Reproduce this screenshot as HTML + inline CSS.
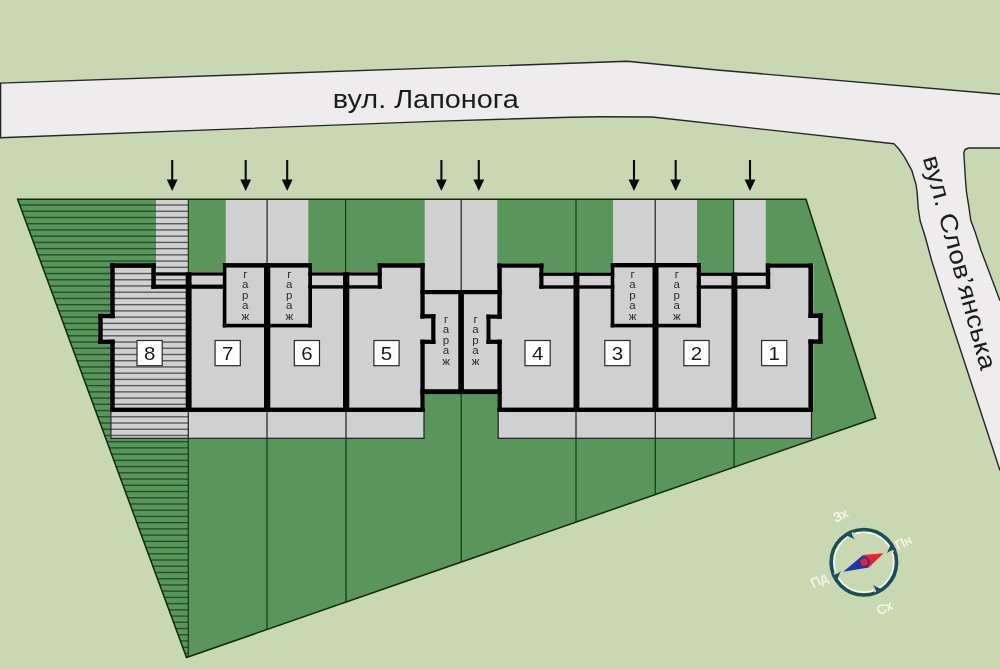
<!DOCTYPE html><html><head><meta charset="utf-8"><style>html,body{margin:0;padding:0;background:#c8d8b2;}body{width:1000px;height:669px;overflow:hidden;font-family:"Liberation Sans",sans-serif;}svg{display:block;will-change:transform;}</style></head><body><svg width="1000" height="669" viewBox="0 0 1000 669">
<defs>
<clipPath id="hclip"><polygon points="17.60,199.20 188.00,199.20 188.00,656.98 186.50,657.50"/></clipPath>
<clipPath id="b8clip"><path d="M156,199 H188 V412 H110 V344 H98.2 V313.8 H110 V263.2 H156 Z"/></clipPath>
<clipPath id="t8clip"><rect x="110.5" y="412" width="77.5" height="26.3"/></clipPath>
</defs>
<rect x="0.00" y="0.00" width="1000.00" height="669.00" fill="#c8d8b2" />
<polygon points="0.00,83.10 627.00,61.30 720.00,70.30 1000.00,94.30 1000.00,148.00 968.50,148.00 965.00,149.50 963.80,153.00 965.50,180.00 966.50,192.00 969.00,207.90 970.80,220.50 975.30,232.50 980.90,250.00 1000.00,300.70 1000.00,470.50 944.10,300.00 931.50,260.00 925.30,237.00 920.20,221.00 918.20,208.00 917.20,193.00 916.00,184.50 911.80,170.30 904.40,156.90 898.50,148.50 893.90,143.70 652.40,117.00 600.00,116.80 570.00,117.20 440.00,121.10 0.00,137.80" fill="#efeced"/>
<polyline points="0.00,83.10 627.00,61.30 720.00,70.30 1000.00,94.30" fill="none" stroke="#262626" stroke-width="1.4" stroke-linejoin="round"/>
<polyline points="1000.00,148.00 968.50,148.00 965.00,149.50 963.80,153.00 965.50,180.00 966.50,192.00 969.00,207.90 970.80,220.50 975.30,232.50 980.90,250.00 1000.00,300.70" fill="none" stroke="#262626" stroke-width="1.4" stroke-linejoin="round"/>
<polyline points="1000.00,470.50 944.10,300.00 931.50,260.00 925.30,237.00 920.20,221.00 918.20,208.00 917.20,193.00 916.00,184.50 911.80,170.30 904.40,156.90 898.50,148.50 893.90,143.70 652.40,117.00 600.00,116.80 570.00,117.20 440.00,121.10 0.00,137.80 0.60,137.80 0.60,83.10" fill="none" stroke="#262626" stroke-width="1.4" stroke-linejoin="round"/>
<polygon points="17.60,199.20 806.00,199.20 875.70,418.00 186.50,657.50" fill="#5a955c"/>
<g clip-path="url(#hclip)">
<rect x="0.00" y="198.10" width="190.00" height="1.4" fill="#24522a"/>
<rect x="0.00" y="204.33" width="190.00" height="1.4" fill="#24522a"/>
<rect x="0.00" y="210.56" width="190.00" height="1.4" fill="#24522a"/>
<rect x="0.00" y="216.78" width="190.00" height="1.4" fill="#24522a"/>
<rect x="0.00" y="223.01" width="190.00" height="1.4" fill="#24522a"/>
<rect x="0.00" y="229.24" width="190.00" height="1.4" fill="#24522a"/>
<rect x="0.00" y="235.47" width="190.00" height="1.4" fill="#24522a"/>
<rect x="0.00" y="241.70" width="190.00" height="1.4" fill="#24522a"/>
<rect x="0.00" y="247.92" width="190.00" height="1.4" fill="#24522a"/>
<rect x="0.00" y="254.15" width="190.00" height="1.4" fill="#24522a"/>
<rect x="0.00" y="260.38" width="190.00" height="1.4" fill="#24522a"/>
<rect x="0.00" y="266.61" width="190.00" height="1.4" fill="#24522a"/>
<rect x="0.00" y="272.84" width="190.00" height="1.4" fill="#24522a"/>
<rect x="0.00" y="279.06" width="190.00" height="1.4" fill="#24522a"/>
<rect x="0.00" y="285.29" width="190.00" height="1.4" fill="#24522a"/>
<rect x="0.00" y="291.52" width="190.00" height="1.4" fill="#24522a"/>
<rect x="0.00" y="297.75" width="190.00" height="1.4" fill="#24522a"/>
<rect x="0.00" y="303.98" width="190.00" height="1.4" fill="#24522a"/>
<rect x="0.00" y="310.20" width="190.00" height="1.4" fill="#24522a"/>
<rect x="0.00" y="316.43" width="190.00" height="1.4" fill="#24522a"/>
<rect x="0.00" y="322.66" width="190.00" height="1.4" fill="#24522a"/>
<rect x="0.00" y="328.89" width="190.00" height="1.4" fill="#24522a"/>
<rect x="0.00" y="335.12" width="190.00" height="1.4" fill="#24522a"/>
<rect x="0.00" y="341.34" width="190.00" height="1.4" fill="#24522a"/>
<rect x="0.00" y="347.57" width="190.00" height="1.4" fill="#24522a"/>
<rect x="0.00" y="353.80" width="190.00" height="1.4" fill="#24522a"/>
<rect x="0.00" y="360.03" width="190.00" height="1.4" fill="#24522a"/>
<rect x="0.00" y="366.26" width="190.00" height="1.4" fill="#24522a"/>
<rect x="0.00" y="372.48" width="190.00" height="1.4" fill="#24522a"/>
<rect x="0.00" y="378.71" width="190.00" height="1.4" fill="#24522a"/>
<rect x="0.00" y="384.94" width="190.00" height="1.4" fill="#24522a"/>
<rect x="0.00" y="391.17" width="190.00" height="1.4" fill="#24522a"/>
<rect x="0.00" y="397.40" width="190.00" height="1.4" fill="#24522a"/>
<rect x="0.00" y="403.62" width="190.00" height="1.4" fill="#24522a"/>
<rect x="0.00" y="409.85" width="190.00" height="1.4" fill="#24522a"/>
<rect x="0.00" y="416.08" width="190.00" height="1.4" fill="#24522a"/>
<rect x="0.00" y="422.31" width="190.00" height="1.4" fill="#24522a"/>
<rect x="0.00" y="428.54" width="190.00" height="1.4" fill="#24522a"/>
<rect x="0.00" y="434.76" width="190.00" height="1.4" fill="#24522a"/>
<rect x="0.00" y="440.99" width="190.00" height="1.4" fill="#24522a"/>
<rect x="0.00" y="447.22" width="190.00" height="1.4" fill="#24522a"/>
<rect x="0.00" y="453.45" width="190.00" height="1.4" fill="#24522a"/>
<rect x="0.00" y="459.68" width="190.00" height="1.4" fill="#24522a"/>
<rect x="0.00" y="465.90" width="190.00" height="1.4" fill="#24522a"/>
<rect x="0.00" y="472.13" width="190.00" height="1.4" fill="#24522a"/>
<rect x="0.00" y="478.36" width="190.00" height="1.4" fill="#24522a"/>
<rect x="0.00" y="484.59" width="190.00" height="1.4" fill="#24522a"/>
<rect x="0.00" y="490.82" width="190.00" height="1.4" fill="#24522a"/>
<rect x="0.00" y="497.04" width="190.00" height="1.4" fill="#24522a"/>
<rect x="0.00" y="503.27" width="190.00" height="1.4" fill="#24522a"/>
<rect x="0.00" y="509.50" width="190.00" height="1.4" fill="#24522a"/>
<rect x="0.00" y="515.73" width="190.00" height="1.4" fill="#24522a"/>
<rect x="0.00" y="521.96" width="190.00" height="1.4" fill="#24522a"/>
<rect x="0.00" y="528.18" width="190.00" height="1.4" fill="#24522a"/>
<rect x="0.00" y="534.41" width="190.00" height="1.4" fill="#24522a"/>
<rect x="0.00" y="540.64" width="190.00" height="1.4" fill="#24522a"/>
<rect x="0.00" y="546.87" width="190.00" height="1.4" fill="#24522a"/>
<rect x="0.00" y="553.10" width="190.00" height="1.4" fill="#24522a"/>
<rect x="0.00" y="559.32" width="190.00" height="1.4" fill="#24522a"/>
<rect x="0.00" y="565.55" width="190.00" height="1.4" fill="#24522a"/>
<rect x="0.00" y="571.78" width="190.00" height="1.4" fill="#24522a"/>
<rect x="0.00" y="578.01" width="190.00" height="1.4" fill="#24522a"/>
<rect x="0.00" y="584.24" width="190.00" height="1.4" fill="#24522a"/>
<rect x="0.00" y="590.46" width="190.00" height="1.4" fill="#24522a"/>
<rect x="0.00" y="596.69" width="190.00" height="1.4" fill="#24522a"/>
<rect x="0.00" y="602.92" width="190.00" height="1.4" fill="#24522a"/>
<rect x="0.00" y="609.15" width="190.00" height="1.4" fill="#24522a"/>
<rect x="0.00" y="615.38" width="190.00" height="1.4" fill="#24522a"/>
<rect x="0.00" y="621.60" width="190.00" height="1.4" fill="#24522a"/>
<rect x="0.00" y="627.83" width="190.00" height="1.4" fill="#24522a"/>
<rect x="0.00" y="634.06" width="190.00" height="1.4" fill="#24522a"/>
<rect x="0.00" y="640.29" width="190.00" height="1.4" fill="#24522a"/>
<rect x="0.00" y="646.52" width="190.00" height="1.4" fill="#24522a"/>
<rect x="0.00" y="652.74" width="190.00" height="1.4" fill="#24522a"/>
<rect x="0.00" y="658.97" width="190.00" height="1.4" fill="#24522a"/>
</g>
<rect x="225.80" y="199.20" width="82.50" height="66.80" fill="#d0d0d0" />
<rect x="424.70" y="199.20" width="72.60" height="92.80" fill="#d0d0d0" />
<rect x="613.00" y="199.20" width="84.00" height="66.80" fill="#d0d0d0" />
<rect x="733.50" y="199.20" width="32.30" height="74.80" fill="#d0d0d0" />
<rect x="188.00" y="272.50" width="236.70" height="137.50" fill="#d0d0d0" />
<rect x="222.80" y="263.10" width="89.20" height="36.90" fill="#d0d0d0" />
<rect x="377.70" y="263.20" width="47.00" height="36.80" fill="#d0d0d0" />
<rect x="420.00" y="290.00" width="81.60" height="104.00" fill="#d0d0d0" />
<rect x="497.40" y="272.50" width="315.80" height="137.50" fill="#d0d0d0" />
<rect x="497.40" y="263.50" width="46.10" height="36.50" fill="#d0d0d0" />
<rect x="610.70" y="263.00" width="90.20" height="37.00" fill="#d0d0d0" />
<rect x="765.60" y="263.50" width="47.60" height="36.50" fill="#d0d0d0" />
<rect x="808.00" y="313.40" width="14.70" height="30.40" fill="#d0d0d0" />
<rect x="420.00" y="314.20" width="15.40" height="29.70" fill="#d0d0d0" />
<rect x="486.50" y="314.60" width="15.50" height="29.30" fill="#d0d0d0" />
<g clip-path="url(#b8clip)">
<rect x="95.00" y="199.00" width="95.00" height="213.00" fill="#d0d0d0" />
<rect x="95.00" y="198.10" width="95.00" height="1.4" fill="#5a5a5a"/>
<rect x="95.00" y="204.33" width="95.00" height="1.4" fill="#5a5a5a"/>
<rect x="95.00" y="210.56" width="95.00" height="1.4" fill="#5a5a5a"/>
<rect x="95.00" y="216.78" width="95.00" height="1.4" fill="#5a5a5a"/>
<rect x="95.00" y="223.01" width="95.00" height="1.4" fill="#5a5a5a"/>
<rect x="95.00" y="229.24" width="95.00" height="1.4" fill="#5a5a5a"/>
<rect x="95.00" y="235.47" width="95.00" height="1.4" fill="#5a5a5a"/>
<rect x="95.00" y="241.70" width="95.00" height="1.4" fill="#5a5a5a"/>
<rect x="95.00" y="247.92" width="95.00" height="1.4" fill="#5a5a5a"/>
<rect x="95.00" y="254.15" width="95.00" height="1.4" fill="#5a5a5a"/>
<rect x="95.00" y="260.38" width="95.00" height="1.4" fill="#5a5a5a"/>
<rect x="95.00" y="266.61" width="95.00" height="1.4" fill="#5a5a5a"/>
<rect x="95.00" y="272.84" width="95.00" height="1.4" fill="#5a5a5a"/>
<rect x="95.00" y="279.06" width="95.00" height="1.4" fill="#5a5a5a"/>
<rect x="95.00" y="285.29" width="95.00" height="1.4" fill="#5a5a5a"/>
<rect x="95.00" y="291.52" width="95.00" height="1.4" fill="#5a5a5a"/>
<rect x="95.00" y="297.75" width="95.00" height="1.4" fill="#5a5a5a"/>
<rect x="95.00" y="303.98" width="95.00" height="1.4" fill="#5a5a5a"/>
<rect x="95.00" y="310.20" width="95.00" height="1.4" fill="#5a5a5a"/>
<rect x="95.00" y="316.43" width="95.00" height="1.4" fill="#5a5a5a"/>
<rect x="95.00" y="322.66" width="95.00" height="1.4" fill="#5a5a5a"/>
<rect x="95.00" y="328.89" width="95.00" height="1.4" fill="#5a5a5a"/>
<rect x="95.00" y="335.12" width="95.00" height="1.4" fill="#5a5a5a"/>
<rect x="95.00" y="341.34" width="95.00" height="1.4" fill="#5a5a5a"/>
<rect x="95.00" y="347.57" width="95.00" height="1.4" fill="#5a5a5a"/>
<rect x="95.00" y="353.80" width="95.00" height="1.4" fill="#5a5a5a"/>
<rect x="95.00" y="360.03" width="95.00" height="1.4" fill="#5a5a5a"/>
<rect x="95.00" y="366.26" width="95.00" height="1.4" fill="#5a5a5a"/>
<rect x="95.00" y="372.48" width="95.00" height="1.4" fill="#5a5a5a"/>
<rect x="95.00" y="378.71" width="95.00" height="1.4" fill="#5a5a5a"/>
<rect x="95.00" y="384.94" width="95.00" height="1.4" fill="#5a5a5a"/>
<rect x="95.00" y="391.17" width="95.00" height="1.4" fill="#5a5a5a"/>
<rect x="95.00" y="397.40" width="95.00" height="1.4" fill="#5a5a5a"/>
<rect x="95.00" y="403.62" width="95.00" height="1.4" fill="#5a5a5a"/>
<rect x="95.00" y="409.85" width="95.00" height="1.4" fill="#5a5a5a"/>
</g>
<rect x="110.50" y="412.00" width="313.50" height="26.30" fill="#d0d0d0" />
<rect x="498.00" y="412.00" width="313.50" height="26.30" fill="#d0d0d0" />
<g clip-path="url(#t8clip)">
<rect x="110.00" y="416.08" width="80.00" height="1.4" fill="#5a5a5a"/>
<rect x="110.00" y="422.31" width="80.00" height="1.4" fill="#5a5a5a"/>
<rect x="110.00" y="428.54" width="80.00" height="1.4" fill="#5a5a5a"/>
<rect x="110.00" y="434.76" width="80.00" height="1.4" fill="#5a5a5a"/>
</g>
<rect x="110.50" y="437.70" width="313.90" height="1.2" fill="#202020"/>
<rect x="497.60" y="437.70" width="314.30" height="1.2" fill="#202020"/>
<rect x="110.30" y="412.00" width="1.2" height="26.80" fill="#202020"/>
<rect x="423.40" y="412.00" width="1.2" height="26.80" fill="#202020"/>
<rect x="497.60" y="412.00" width="1.2" height="26.80" fill="#202020"/>
<rect x="810.90" y="412.00" width="1.2" height="26.80" fill="#202020"/>
<rect x="187.70" y="412.00" width="1.2" height="26.30" fill="#202020"/>
<rect x="266.40" y="412.00" width="1.2" height="26.30" fill="#202020"/>
<rect x="345.40" y="412.00" width="1.2" height="26.30" fill="#202020"/>
<rect x="575.40" y="412.00" width="1.2" height="26.30" fill="#202020"/>
<rect x="654.70" y="412.00" width="1.2" height="26.30" fill="#202020"/>
<rect x="733.40" y="412.00" width="1.2" height="26.30" fill="#202020"/>
<rect x="187.70" y="199.20" width="1.2" height="74.80" fill="#143a16"/>
<rect x="187.70" y="438.30" width="1.2" height="218.57" fill="#143a16"/>
<rect x="266.40" y="438.30" width="1.2" height="191.23" fill="#143a16"/>
<rect x="345.40" y="438.30" width="1.2" height="163.77" fill="#143a16"/>
<rect x="460.60" y="394.00" width="1.2" height="168.04" fill="#143a16"/>
<rect x="575.40" y="438.30" width="1.2" height="83.85" fill="#143a16"/>
<rect x="654.70" y="438.30" width="1.2" height="56.29" fill="#143a16"/>
<rect x="733.40" y="438.30" width="1.2" height="28.94" fill="#143a16"/>
<rect x="266.50" y="199.20" width="1.2" height="64.80" fill="#202020"/>
<rect x="345.00" y="199.20" width="1.2" height="74.80" fill="#143a16"/>
<rect x="460.60" y="199.20" width="1.2" height="91.80" fill="#202020"/>
<rect x="575.40" y="199.20" width="1.2" height="74.80" fill="#143a16"/>
<rect x="654.60" y="199.20" width="1.2" height="64.80" fill="#202020"/>
<rect x="733.00" y="199.20" width="1.2" height="74.80" fill="#143a16"/>
<polygon points="17.60,199.20 806.00,199.20 875.70,418.00 186.50,657.50" fill="none" stroke="#10290f" stroke-width="1.5" stroke-linejoin="miter"/>
<rect x="110.20" y="263.20" width="45.60" height="4.50" fill="#000" />
<rect x="110.20" y="263.20" width="4.50" height="55.00" fill="#000" />
<rect x="98.20" y="313.80" width="16.50" height="4.40" fill="#000" />
<rect x="98.20" y="313.80" width="4.50" height="30.20" fill="#000" />
<rect x="98.20" y="339.60" width="16.50" height="4.40" fill="#000" />
<rect x="110.20" y="339.60" width="4.50" height="72.40" fill="#000" />
<rect x="151.30" y="263.20" width="4.50" height="25.50" fill="#000" />
<rect x="151.30" y="284.60" width="74.70" height="4.20" fill="#000" />
<rect x="155.80" y="272.40" width="70.20" height="3.20" fill="#000" />
<rect x="185.70" y="272.40" width="5.90" height="139.60" fill="#000" />
<rect x="110.20" y="407.60" width="314.50" height="4.40" fill="#000" />
<rect x="222.80" y="263.10" width="3.60" height="64.30" fill="#000" />
<rect x="222.80" y="263.10" width="89.20" height="4.50" fill="#000" />
<rect x="308.30" y="263.10" width="3.70" height="64.30" fill="#000" />
<rect x="222.80" y="323.80" width="89.20" height="3.60" fill="#000" />
<rect x="264.00" y="263.10" width="6.30" height="148.90" fill="#000" />
<rect x="308.30" y="272.40" width="73.50" height="3.20" fill="#000" />
<rect x="308.30" y="285.20" width="73.50" height="3.40" fill="#000" />
<rect x="343.00" y="272.40" width="6.30" height="139.60" fill="#000" />
<rect x="377.70" y="263.20" width="4.10" height="25.40" fill="#000" />
<rect x="377.70" y="263.20" width="47.00" height="4.50" fill="#000" />
<rect x="420.40" y="263.20" width="4.30" height="55.50" fill="#000" />
<rect x="420.40" y="339.70" width="4.30" height="72.30" fill="#000" />
<rect x="420.40" y="314.20" width="15.00" height="4.20" fill="#000" />
<rect x="431.20" y="314.20" width="4.20" height="29.70" fill="#000" />
<rect x="420.40" y="339.70" width="15.00" height="4.20" fill="#000" />
<rect x="420.40" y="290.00" width="81.20" height="4.20" fill="#000" />
<rect x="420.40" y="389.20" width="81.20" height="4.90" fill="#000" />
<rect x="458.30" y="290.00" width="5.60" height="104.10" fill="#000" />
<rect x="497.40" y="263.50" width="4.40" height="55.20" fill="#000" />
<rect x="497.40" y="339.70" width="4.40" height="72.30" fill="#000" />
<rect x="486.50" y="314.60" width="15.30" height="4.10" fill="#000" />
<rect x="486.50" y="314.60" width="4.00" height="29.30" fill="#000" />
<rect x="486.50" y="339.70" width="15.30" height="4.20" fill="#000" />
<rect x="497.40" y="263.50" width="46.10" height="4.20" fill="#000" />
<rect x="539.30" y="263.50" width="4.20" height="25.20" fill="#000" />
<rect x="539.30" y="272.60" width="75.00" height="3.30" fill="#000" />
<rect x="539.30" y="285.30" width="75.00" height="3.40" fill="#000" />
<rect x="573.50" y="272.60" width="5.90" height="139.40" fill="#000" />
<rect x="610.70" y="263.00" width="3.60" height="64.40" fill="#000" />
<rect x="610.70" y="263.00" width="90.20" height="4.40" fill="#000" />
<rect x="696.80" y="263.00" width="4.10" height="64.40" fill="#000" />
<rect x="610.70" y="323.80" width="90.20" height="3.60" fill="#000" />
<rect x="652.50" y="263.00" width="6.00" height="149.00" fill="#000" />
<rect x="696.80" y="272.60" width="73.40" height="3.30" fill="#000" />
<rect x="696.80" y="285.30" width="73.40" height="3.40" fill="#000" />
<rect x="731.40" y="272.60" width="6.00" height="139.40" fill="#000" />
<rect x="765.80" y="263.50" width="4.40" height="25.20" fill="#000" />
<rect x="765.80" y="263.50" width="47.20" height="4.20" fill="#000" />
<rect x="808.40" y="263.50" width="4.60" height="54.50" fill="#000" />
<rect x="808.40" y="339.40" width="4.60" height="72.60" fill="#000" />
<rect x="808.40" y="313.40" width="14.30" height="4.60" fill="#000" />
<rect x="818.20" y="313.40" width="4.50" height="30.40" fill="#000" />
<rect x="808.40" y="339.40" width="14.30" height="4.40" fill="#000" />
<rect x="497.40" y="407.60" width="315.60" height="4.40" fill="#000" />
<rect x="137.00" y="340.50" width="25.2" height="25.2" fill="#fff" stroke="#2a2a2a" stroke-width="1.2"/>
<text transform="translate(149.60,359.70) scale(1.15,1)" text-anchor="middle" font-family="Liberation Sans, sans-serif" font-size="17.8" fill="#1a1a1a">8</text>
<rect x="215.10" y="340.50" width="25.2" height="25.2" fill="#fff" stroke="#2a2a2a" stroke-width="1.2"/>
<text transform="translate(227.70,359.70) scale(1.15,1)" text-anchor="middle" font-family="Liberation Sans, sans-serif" font-size="17.8" fill="#1a1a1a">7</text>
<rect x="294.30" y="340.50" width="25.2" height="25.2" fill="#fff" stroke="#2a2a2a" stroke-width="1.2"/>
<text transform="translate(306.90,359.70) scale(1.15,1)" text-anchor="middle" font-family="Liberation Sans, sans-serif" font-size="17.8" fill="#1a1a1a">6</text>
<rect x="373.90" y="340.50" width="25.2" height="25.2" fill="#fff" stroke="#2a2a2a" stroke-width="1.2"/>
<text transform="translate(386.50,359.70) scale(1.15,1)" text-anchor="middle" font-family="Liberation Sans, sans-serif" font-size="17.8" fill="#1a1a1a">5</text>
<rect x="525.00" y="340.50" width="25.2" height="25.2" fill="#fff" stroke="#2a2a2a" stroke-width="1.2"/>
<text transform="translate(537.60,359.70) scale(1.15,1)" text-anchor="middle" font-family="Liberation Sans, sans-serif" font-size="17.8" fill="#1a1a1a">4</text>
<rect x="604.80" y="340.50" width="25.2" height="25.2" fill="#fff" stroke="#2a2a2a" stroke-width="1.2"/>
<text transform="translate(617.40,359.70) scale(1.15,1)" text-anchor="middle" font-family="Liberation Sans, sans-serif" font-size="17.8" fill="#1a1a1a">3</text>
<rect x="683.90" y="340.50" width="25.2" height="25.2" fill="#fff" stroke="#2a2a2a" stroke-width="1.2"/>
<text transform="translate(696.50,359.70) scale(1.15,1)" text-anchor="middle" font-family="Liberation Sans, sans-serif" font-size="17.8" fill="#1a1a1a">2</text>
<rect x="761.60" y="340.50" width="25.2" height="25.2" fill="#fff" stroke="#2a2a2a" stroke-width="1.2"/>
<text transform="translate(774.20,359.70) scale(1.15,1)" text-anchor="middle" font-family="Liberation Sans, sans-serif" font-size="17.8" fill="#1a1a1a">1</text>
<text x="245.30" y="277.70" text-anchor="middle" font-family="Liberation Sans, sans-serif" font-size="11.5" fill="#2a2a2a">г</text>
<text x="245.30" y="288.20" text-anchor="middle" font-family="Liberation Sans, sans-serif" font-size="11.5" fill="#2a2a2a">а</text>
<text x="245.30" y="298.70" text-anchor="middle" font-family="Liberation Sans, sans-serif" font-size="11.5" fill="#2a2a2a">р</text>
<text x="245.30" y="309.20" text-anchor="middle" font-family="Liberation Sans, sans-serif" font-size="11.5" fill="#2a2a2a">а</text>
<text x="245.30" y="319.70" text-anchor="middle" font-family="Liberation Sans, sans-serif" font-size="11.5" fill="#2a2a2a">ж</text>
<text x="289.30" y="277.70" text-anchor="middle" font-family="Liberation Sans, sans-serif" font-size="11.5" fill="#2a2a2a">г</text>
<text x="289.30" y="288.20" text-anchor="middle" font-family="Liberation Sans, sans-serif" font-size="11.5" fill="#2a2a2a">а</text>
<text x="289.30" y="298.70" text-anchor="middle" font-family="Liberation Sans, sans-serif" font-size="11.5" fill="#2a2a2a">р</text>
<text x="289.30" y="309.20" text-anchor="middle" font-family="Liberation Sans, sans-serif" font-size="11.5" fill="#2a2a2a">а</text>
<text x="289.30" y="319.70" text-anchor="middle" font-family="Liberation Sans, sans-serif" font-size="11.5" fill="#2a2a2a">ж</text>
<text x="632.50" y="277.70" text-anchor="middle" font-family="Liberation Sans, sans-serif" font-size="11.5" fill="#2a2a2a">г</text>
<text x="632.50" y="288.20" text-anchor="middle" font-family="Liberation Sans, sans-serif" font-size="11.5" fill="#2a2a2a">а</text>
<text x="632.50" y="298.70" text-anchor="middle" font-family="Liberation Sans, sans-serif" font-size="11.5" fill="#2a2a2a">р</text>
<text x="632.50" y="309.20" text-anchor="middle" font-family="Liberation Sans, sans-serif" font-size="11.5" fill="#2a2a2a">а</text>
<text x="632.50" y="319.70" text-anchor="middle" font-family="Liberation Sans, sans-serif" font-size="11.5" fill="#2a2a2a">ж</text>
<text x="676.80" y="277.70" text-anchor="middle" font-family="Liberation Sans, sans-serif" font-size="11.5" fill="#2a2a2a">г</text>
<text x="676.80" y="288.20" text-anchor="middle" font-family="Liberation Sans, sans-serif" font-size="11.5" fill="#2a2a2a">а</text>
<text x="676.80" y="298.70" text-anchor="middle" font-family="Liberation Sans, sans-serif" font-size="11.5" fill="#2a2a2a">р</text>
<text x="676.80" y="309.20" text-anchor="middle" font-family="Liberation Sans, sans-serif" font-size="11.5" fill="#2a2a2a">а</text>
<text x="676.80" y="319.70" text-anchor="middle" font-family="Liberation Sans, sans-serif" font-size="11.5" fill="#2a2a2a">ж</text>
<text x="446.00" y="322.60" text-anchor="middle" font-family="Liberation Sans, sans-serif" font-size="11.5" fill="#2a2a2a">г</text>
<text x="446.00" y="333.10" text-anchor="middle" font-family="Liberation Sans, sans-serif" font-size="11.5" fill="#2a2a2a">а</text>
<text x="446.00" y="343.60" text-anchor="middle" font-family="Liberation Sans, sans-serif" font-size="11.5" fill="#2a2a2a">р</text>
<text x="446.00" y="354.10" text-anchor="middle" font-family="Liberation Sans, sans-serif" font-size="11.5" fill="#2a2a2a">а</text>
<text x="446.00" y="364.60" text-anchor="middle" font-family="Liberation Sans, sans-serif" font-size="11.5" fill="#2a2a2a">ж</text>
<text x="475.50" y="322.60" text-anchor="middle" font-family="Liberation Sans, sans-serif" font-size="11.5" fill="#2a2a2a">г</text>
<text x="475.50" y="333.10" text-anchor="middle" font-family="Liberation Sans, sans-serif" font-size="11.5" fill="#2a2a2a">а</text>
<text x="475.50" y="343.60" text-anchor="middle" font-family="Liberation Sans, sans-serif" font-size="11.5" fill="#2a2a2a">р</text>
<text x="475.50" y="354.10" text-anchor="middle" font-family="Liberation Sans, sans-serif" font-size="11.5" fill="#2a2a2a">а</text>
<text x="475.50" y="364.60" text-anchor="middle" font-family="Liberation Sans, sans-serif" font-size="11.5" fill="#2a2a2a">ж</text>
<rect x="171.15" y="160.00" width="2.10" height="22.00" fill="#0a0a0a" />
<polygon points="166.80,179.60 177.60,179.60 172.20,191.00" fill="#0a0a0a"/>
<rect x="244.65" y="160.00" width="2.10" height="22.00" fill="#0a0a0a" />
<polygon points="240.30,179.60 251.10,179.60 245.70,191.00" fill="#0a0a0a"/>
<rect x="286.15" y="160.00" width="2.10" height="22.00" fill="#0a0a0a" />
<polygon points="281.80,179.60 292.60,179.60 287.20,191.00" fill="#0a0a0a"/>
<rect x="440.35" y="160.00" width="2.10" height="22.00" fill="#0a0a0a" />
<polygon points="436.00,179.60 446.80,179.60 441.40,191.00" fill="#0a0a0a"/>
<rect x="477.75" y="160.00" width="2.10" height="22.00" fill="#0a0a0a" />
<polygon points="473.40,179.60 484.20,179.60 478.80,191.00" fill="#0a0a0a"/>
<rect x="632.95" y="160.00" width="2.10" height="22.00" fill="#0a0a0a" />
<polygon points="628.60,179.60 639.40,179.60 634.00,191.00" fill="#0a0a0a"/>
<rect x="674.65" y="160.00" width="2.10" height="22.00" fill="#0a0a0a" />
<polygon points="670.30,179.60 681.10,179.60 675.70,191.00" fill="#0a0a0a"/>
<rect x="748.95" y="160.00" width="2.10" height="22.00" fill="#0a0a0a" />
<polygon points="744.60,179.60 755.40,179.60 750.00,191.00" fill="#0a0a0a"/>
<text x="332.8" y="107.7" font-family="Liberation Sans, sans-serif" font-size="25.5" fill="#1c1c1c" textLength="186" lengthAdjust="spacingAndGlyphs">вул. Лапонога</text>
<text transform="translate(959.5,262.6) rotate(74.8)" x="0" y="8" text-anchor="middle" font-family="Liberation Sans, sans-serif" font-size="24.5" fill="#1c1c1c" textLength="221" lengthAdjust="spacingAndGlyphs">вул. Слов’янська</text>
<g transform="translate(863.85,562.25)">
<circle r="29.9" fill="none" stroke="#f2f7ef" stroke-width="1.8"/>
<circle r="32.75" fill="none" stroke="#1f4e5b" stroke-width="3.6"/>
<g transform="rotate(-115)"><polygon points="32,-5 32,1.2 24.8,1.5" fill="#1f4e5b"/><rect x="26" y="1.2" width="6" height="1.8" fill="#c8d8b2"/></g>
<g transform="rotate(-25)"><polygon points="32,-5 32,1.2 24.8,1.5" fill="#1f4e5b"/><rect x="26" y="1.2" width="6" height="1.8" fill="#c8d8b2"/></g>
<g transform="rotate(65)"><polygon points="32,-5 32,1.2 24.8,1.5" fill="#1f4e5b"/><rect x="26" y="1.2" width="6" height="1.8" fill="#c8d8b2"/></g>
<g transform="rotate(155)"><polygon points="32,-5 32,1.2 24.8,1.5" fill="#1f4e5b"/><rect x="26" y="1.2" width="6" height="1.8" fill="#c8d8b2"/></g>
<g transform="rotate(-24.8)">
<polygon points="-22.7,0 2.4,-6.9 2.4,6.9" fill="#2233ac"/>
<polygon points="21.7,0 2.4,-6.9 2.4,6.9" fill="#ee1f2e"/>
<circle cx="0.3" r="5.7" fill="#2233ac"/>
<circle cx="0.3" r="3.7" fill="#ee1f2e"/>
</g>
</g>
<text transform="translate(903.30,542.40) rotate(-25)" x="0" y="4.6" text-anchor="middle" font-family="Liberation Sans, sans-serif" font-size="13" fill="#f6f7ee" stroke="#f6f7ee" stroke-width="0.35">Пн</text>
<text transform="translate(840.50,515.20) rotate(-25)" x="0" y="4.6" text-anchor="middle" font-family="Liberation Sans, sans-serif" font-size="13" fill="#f6f7ee" stroke="#f6f7ee" stroke-width="0.35">Зх</text>
<text transform="translate(884.50,607.60) rotate(-25)" x="0" y="4.6" text-anchor="middle" font-family="Liberation Sans, sans-serif" font-size="13" fill="#f6f7ee" stroke="#f6f7ee" stroke-width="0.35">Сх</text>
<text transform="translate(819.00,580.20) rotate(-25)" x="0" y="4.6" text-anchor="middle" font-family="Liberation Sans, sans-serif" font-size="13" fill="#f6f7ee" stroke="#f6f7ee" stroke-width="0.35">Пд</text>
<g>
</g>
</svg></body></html>
